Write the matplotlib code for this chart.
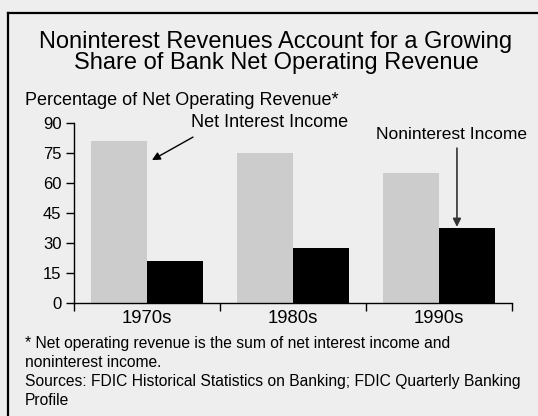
import matplotlib
matplotlib.use("Agg")
import matplotlib.pyplot as plt
from matplotlib.lines import Line2D
import numpy as np

plt.rcParams['font.family'] = ['Liberation Sans', 'DejaVu Sans']

decades = ['1970s', '1980s', '1990s']
net_interest = [81, 75, 65]
noninterest = [21, 27.5, 37.5]
yticks = [0, 15, 30, 45, 60, 75, 90]

title_lines = ['Noninterest Revenues Account for a Growing',
               'Share of Bank Net Operating Revenue']
ylabel = 'Percentage of Net Operating Revenue*'
notes = ['* Net operating revenue is the sum of net interest income and',
         'noninterest income.',
         'Sources: FDIC Historical Statistics on Banking; FDIC Quarterly Banking',
         'Profile']

W, H = 538, 416
bg = '#eeeeee'
fig = plt.figure(figsize=(W / 100, H / 100), dpi=100, facecolor=bg)


def fx(px):
    return px / W


def fy(py):
    return 1 - py / H


# frame (only top and left edges visible)
fig.add_artist(Line2D([fx(7.5), fx(7.5)], [fy(13.3), 0], color='black', lw=1.6))
fig.add_artist(Line2D([fx(7.5), 1], [fy(13.3), fy(13.3)], color='black', lw=1.6))

ax = fig.add_axes([fx(74), fy(303.3), fx(512) - fx(74), fy(123.3) - fy(303.3)])
ax.set_facecolor(bg)

x = np.arange(len(decades))
w = 0.385
ax.bar(x - w / 2, net_interest, w, color='#cccccc', linewidth=0)
ax.bar(x + w / 2, noninterest, w, color='black', linewidth=0)

ax.set_xlim(-0.5, 2.5)
ax.set_ylim(0, 90)
ax.set_yticks(yticks)
ax.set_yticklabels([str(t) for t in yticks], fontsize=12)
ax.set_xticks([-0.5, 0.5, 1.5, 2.5])
ax.set_xticklabels([])
ax.set_xticks(x, minor=True)
ax.set_xticklabels(decades, minor=True, fontsize=13.3)
ax.tick_params(axis='x', which='minor', length=0, pad=5)
ax.tick_params(axis='x', which='major', length=6, width=1, direction='out')
ax.tick_params(axis='y', length=6, width=1, direction='out', pad=3)
for s in ['top', 'right']:
    ax.spines[s].set_visible(False)
ax.spines['left'].set_linewidth(1)
ax.spines['bottom'].set_linewidth(1)

ax.text(0.842, 90.6, 'Net Interest Income', ha='center', va='center',
        fontsize=13, clip_on=False)
ax.annotate('', xy=(0.034, 71.6), xytext=(0.315, 83.1), annotation_clip=False,
            arrowprops=dict(arrowstyle='-|>', color='black', lw=1,
                            shrinkA=0, shrinkB=0, mutation_scale=12))
ax.text(2.089, 84.6, 'Noninterest Income', ha='center', va='center',
        fontsize=12.5, clip_on=False)
ax.annotate('', xy=(2.123, 38.2), xytext=(2.123, 77.6), annotation_clip=False,
            arrowprops=dict(arrowstyle='-|>', color='#333333', lw=1.2,
                            shrinkA=0, shrinkB=0, mutation_scale=12))

fig.text(fx(276), fy(48), title_lines[0], ha='center', va='baseline', fontsize=17)
fig.text(fx(276), fy(69.5), title_lines[1], ha='center', va='baseline', fontsize=17)
fig.text(fx(25), fy(105), ylabel, ha='left', va='baseline', fontsize=13)
for i, line in enumerate(notes):
    fig.text(fx(25), fy(348 + 19 * i), line, ha='left', va='baseline', fontsize=11.25)

fig.savefig('out.png', dpi=100, facecolor=bg)
